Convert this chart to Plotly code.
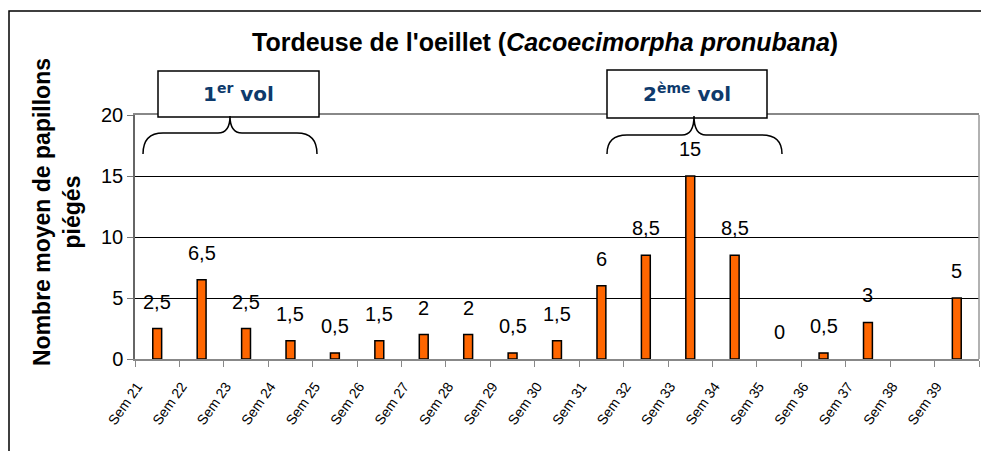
import plotly.graph_objects as go

# ---- data ----
semaines = ["Sem 21", "Sem 22", "Sem 23", "Sem 24", "Sem 25", "Sem 26", "Sem 27",
            "Sem 28", "Sem 29", "Sem 30", "Sem 31", "Sem 32", "Sem 33", "Sem 34",
            "Sem 35", "Sem 36", "Sem 37", "Sem 38", "Sem 39"]
papillons = [2.5, 6.5, 2.5, 1.5, 0.5, 1.5, 2, 2, 0.5, 1.5, 6, 8.5, 15, 8.5,
             0, 0.5, 3, None, 5]
y_ticks = [0, 5, 10, 15, 20]
titre = "<b>Tordeuse de l'oeillet (<i>Cacoecimorpha pronubana</i>)</b>"
titre_y = "<b>Nombre moyen de papillons<br>piégés</b>"
vols = ["<b>1<sup>er</sup> vol</b>", "<b>2<sup>ème</sup> vol</b>"]

# ---- geometry helpers (reference pixel -> paper) ----
W, H = 989, 451
OFF = 8  # page body margin of the browser
L, R, T, B = 135, 979, 115, 359


def px(x):
    return (x - L) / (R - L)


def py(y):
    return (B - y) / (B - T)


def path(points_cmds):
    out = []
    for cmd, pts in points_cmds:
        coords = " ".join(f"{px(a):.5f},{py(b):.5f}" for a, b in pts)
        out.append(f"{cmd} {coords}")
    return " ".join(out)


def brace(x0, xm, x1, ytip, yarm, yend):
    return path([
        ("M", [(x0, yend)]),
        ("Q", [(x0, yarm), (x0 + 20, yarm)]),
        ("L", [(xm - 12, yarm)]),
        ("Q", [(xm, yarm), (xm, ytip)]),
        ("Q", [(xm, yarm), (xm + 12, yarm)]),
        ("L", [(x1 - 20, yarm)]),
        ("Q", [(x1, yarm), (x1, yend)]),
    ])


line_widths = [0 if (v is None or v == 0) else 1.5 for v in papillons]

fig = go.Figure()
fig.add_trace(go.Bar(
    x=semaines, y=papillons, width=0.2,
    marker=dict(color="#FF6600", line=dict(color="black", width=line_widths)),
    hoverinfo="x+y",
))

annotations = []
for cat, v in zip(semaines, papillons):
    if v is None:
        continue
    annotations.append(dict(
        x=cat, y=v, xref="x", yref="y", text=f"{v:g}".replace(".", ","),
        showarrow=False, yshift=27, yanchor="middle",
        font=dict(size=20, color="black", family="Liberation Sans, Arial"),
    ))

# title
annotations.append(dict(
    x=px(545), y=py(42), xref="paper", yref="paper", text=titre,
    showarrow=False, xanchor="center", yanchor="middle",
    font=dict(size=25, color="black", family="Liberation Sans, Arial"),
))
# y title
annotations.append(dict(
    x=px(57), y=py(212), xref="paper", yref="paper", text=titre_y,
    showarrow=False, textangle=-90, xanchor="center", yanchor="middle",
    font=dict(size=23, color="black", family="Liberation Sans, Arial"),
))

# boxes
boxes = [(158, 319, 71, 117), (607, 767, 70, 118)]
shapes = []
for (bx0, bx1, by0, by1), lab in zip(boxes, vols):
    shapes.append(dict(type="rect", xref="paper", yref="paper",
                       x0=px(bx0), x1=px(bx1), y0=py(by1), y1=py(by0),
                       fillcolor="white", line=dict(color="black", width=1.5),
                       layer="above"))
    annotations.append(dict(
        x=px((bx0 + bx1) / 2), y=py((by0 + by1) / 2 - 1), xref="paper", yref="paper",
        text=lab, showarrow=False, xanchor="center", yanchor="middle",
        font=dict(size=20, color="#0E3A6C", family="DejaVu Sans, Verdana"),
    ))

# braces
shapes.append(dict(type="path", xref="paper", yref="paper",
                   path=brace(143, 230, 317, 116, 133, 154),
                   line=dict(color="black", width=1.5), layer="above"))
shapes.append(dict(type="path", xref="paper", yref="paper",
                   path=brace(607, 694, 782, 116, 135, 154),
                   line=dict(color="black", width=1.5), layer="above"))

# right border of plot area
shapes.append(dict(type="line", xref="paper", yref="paper",
                   x0=1, x1=1, y0=0, y1=1, line=dict(color="#999999", width=1.5)))
# outer frame
shapes.append(dict(type="rect", xref="paper", yref="paper",
                   x0=px(9), x1=px(1005), y0=py(470), y1=py(11),
                   line=dict(color="black", width=1.5), fillcolor="rgba(0,0,0,0)"))

fig.update_layout(
    width=W - OFF, height=H - OFF,
    margin=dict(l=L - OFF, r=W - R, t=T - OFF, b=H - B, autoexpand=False),
    paper_bgcolor="white", plot_bgcolor="white",
    showlegend=False,
    font=dict(family="Liberation Sans, Arial", color="black"),
    annotations=annotations,
    shapes=shapes,
    xaxis=dict(
        type="category", tickangle=-55, tickson="boundaries",
        ticks="outside", ticklen=6, tickcolor="#888888",
        showline=True, linecolor="#888888", linewidth=1.5, mirror=True,
        showgrid=False, ticklabelshift=-20, ticklabelstandoff=12,
        tickfont=dict(size=14, color="black"),
    ),
    yaxis=dict(
        range=[0, 20], tickvals=y_ticks, ticks="outside", ticklen=6,
        tickcolor="#777777", showline=True, linecolor="#666666", linewidth=1.5,
        showgrid=True, gridcolor="black", gridwidth=1, zeroline=False,
        tickfont=dict(size=20, color="black"),
    ),
    bargap=0.8,
)

fig.write_html("out.html")
